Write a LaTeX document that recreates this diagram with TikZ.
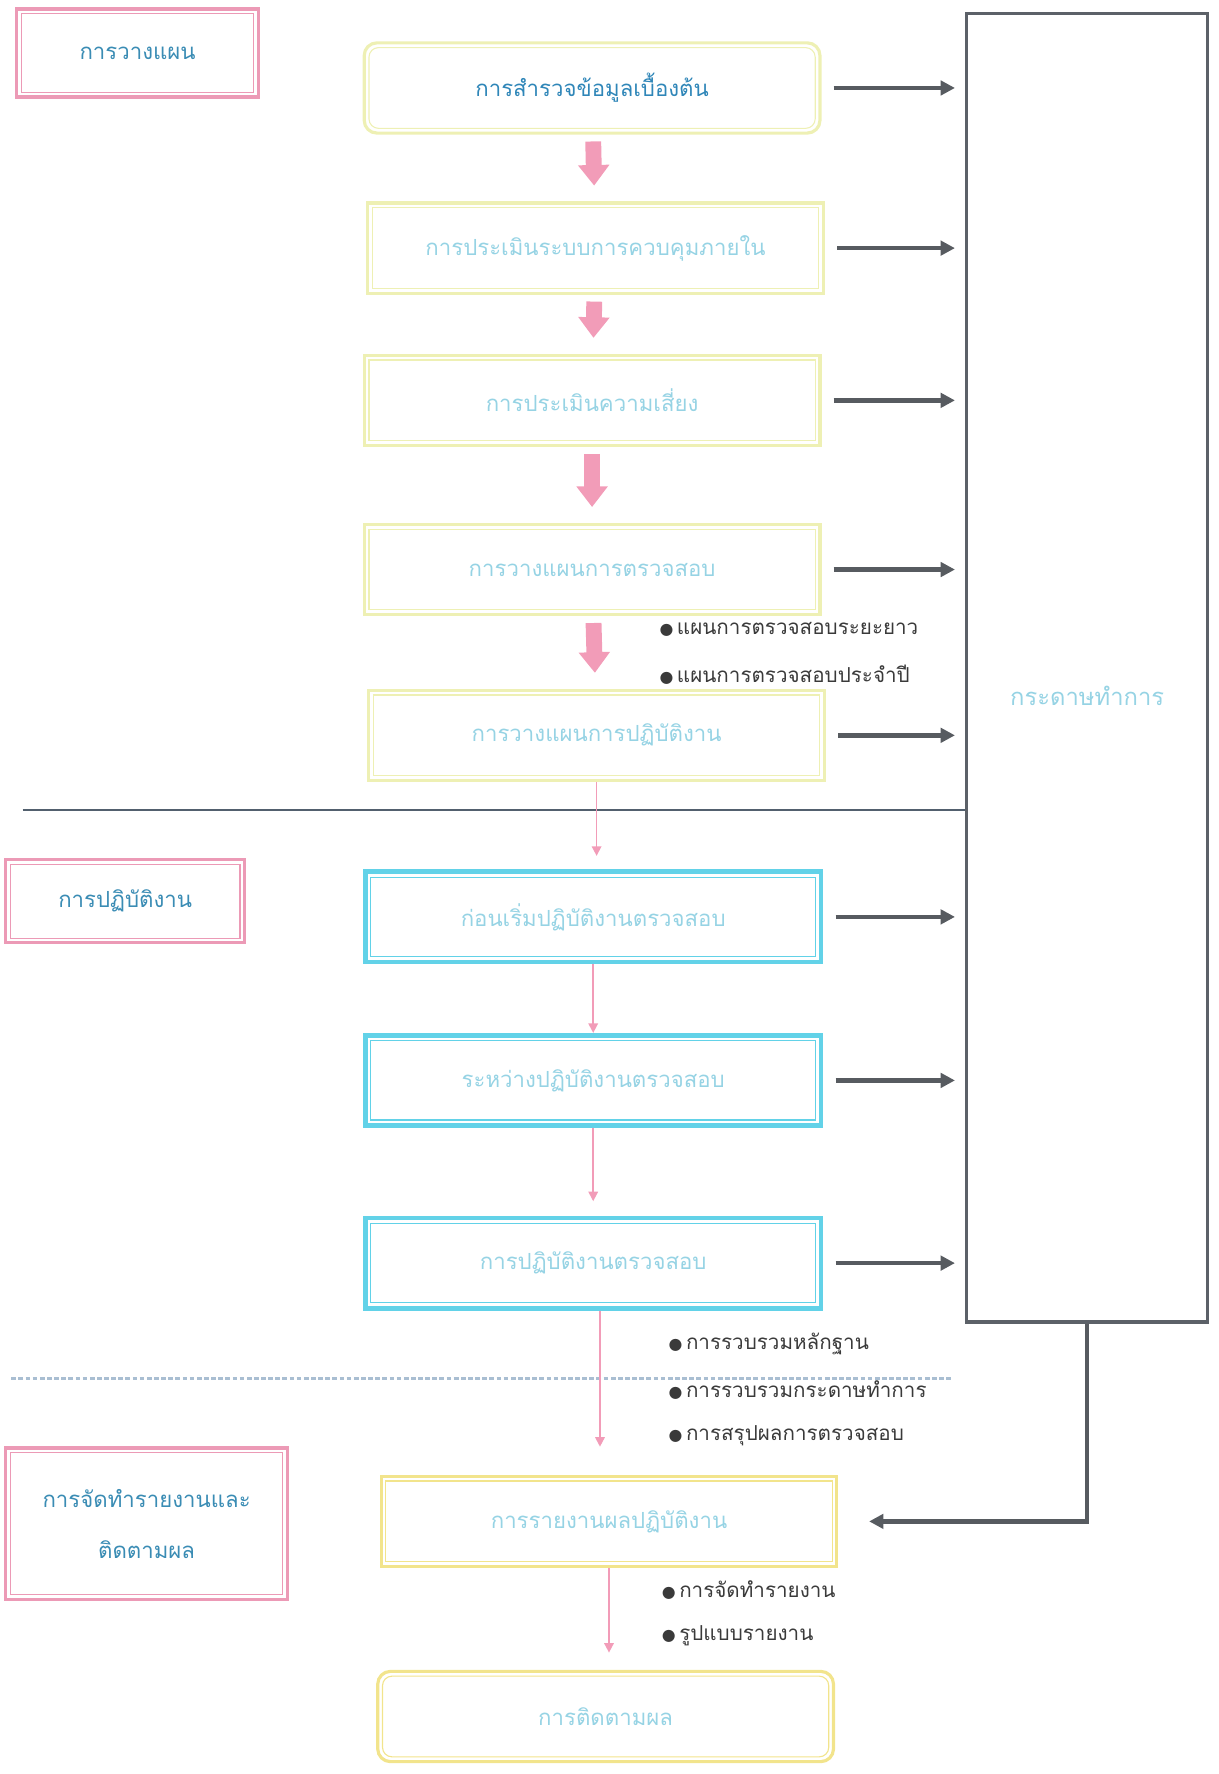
\documentclass[tikz,border=0pt]{standalone}
\usepackage{fontspec}
\usetikzlibrary{arrows.meta}
\newfontfamily\thaifont[Script=Thai]{Loma}
\newfontfamily\symfont{DejaVu Sans}

\definecolor{phasepink}{HTML}{EC9AB6}
\definecolor{phasetext}{HTML}{3A8CB4}
\definecolor{planyellow}{HTML}{EEF0B4}
\definecolor{reportyellow}{HTML}{F2E48C}
\definecolor{workcyan}{HTML}{62D2E8}
\definecolor{fadecyan}{HTML}{96D3E4}
\definecolor{firstblue}{HTML}{2F86B8}
\definecolor{arrowgray}{HTML}{575B60}
\definecolor{boxgray}{HTML}{5C6168}
\definecolor{flowpink}{HTML}{F29CB8}
\definecolor{bullettext}{HTML}{3A3A3A}
\definecolor{sepblue}{HTML}{52606E}
\definecolor{sepdots}{HTML}{A9BED2}

\newcommand{\dotitem}[1]{{\symfont\fontsize{10}{10}\selectfont ●}\,#1}

\begin{document}
\begin{tikzpicture}[x=0.025cm, y=-0.025cm,
  phasebox/.style={draw=phasepink, line width=2pt, text=phasetext, align=center,
    font=\thaifont\fontsize{14}{32}\selectfont},
  planbox/.style={draw=planyellow, line width=2pt, minimum width=10.1cm,
    minimum height=2cm, text=fadecyan, font=\thaifont\fontsize{14}{16}\selectfont},
  workbox/.style={planbox, draw=workcyan, line width=3pt},
  reportbox/.style={planbox, draw=reportyellow},
  paperbox/.style={draw=boxgray, line width=2pt, minimum width=5.35cm, minimum height=29cm},
  toright/.style={draw=arrowgray, line width=2.8pt, shorten <=0.27cm, shorten >=0.22cm,
    -{Triangle[length=9pt,width=9pt]}},
  fatarrow/.style={draw=flowpink, line width=10pt, shorten <=0.15cm, shorten >=0.35cm,
    -{Triangle[length=13pt,width=19pt]}},
  thinarrow/.style={draw=flowpink, line width=1pt, -{Triangle[length=6pt,width=6pt]}},
  bulletitem/.style={anchor=west, text=bullettext, font=\thaifont\fontsize{13}{15}\selectfont}]
\useasboundingbox (0,0) rectangle (1080,1573);

% phase labels
\node[phasebox, minimum width=5.35cm, minimum height=1.95cm] (plan) at (122,47) {การวางแผน};
\node[phasebox, minimum width=5.3cm, minimum height=1.85cm] (work) at (111,799) {การปฏิบัติงาน};
\node[phasebox, minimum width=6.25cm, minimum height=3.35cm] (report) at (130,1351) {การจัดทำรายงานและ\\ติดตามผล};

% planning steps
\node[planbox, rounded corners=8pt, text=firstblue] (survey) at (525,78) {การสำรวจข้อมูลเบื้องต้น};
\node[planbox] (control) at (528,220) {การประเมินระบบการควบคุมภายใน};
\node[planbox] (risk) at (525,355) {การประเมินความเสี่ยง};
\node[planbox] (auditplan) at (525,505) {การวางแผนการตรวจสอบ};
\node[planbox] (workplan) at (529,652) {การวางแผนการปฏิบัติงาน};

% working steps
\node[workbox] (before) at (526,813) {ก่อนเริ่มปฏิบัติงานตรวจสอบ};
\node[workbox] (during) at (526,958) {ระหว่างปฏิบัติงานตรวจสอบ};
\node[workbox] (finish) at (526,1120) {การปฏิบัติงานตรวจสอบ};

% reporting steps
\node[reportbox] (result) at (540,1349) {การรายงานผลปฏิบัติงาน};
\node[reportbox, rounded corners=8pt] (follow) at (537,1522) {การติดตามผล};

% working papers
\node[paperbox] (paper) at (964,592) {};
\node[text=fadecyan, font=\thaifont\fontsize{15}{17}\selectfont] (papertext) at (964,617) {กระดาษทำการ};

% inner lines of the double borders
\foreach \b in {plan,work,report}
  \draw[phasepink, line width=0.7pt]
    ([shift={(4pt,-4pt)}]\b.north west) rectangle ([shift={(-4pt,4pt)}]\b.south east);
\foreach \b in {control,risk,auditplan,workplan}
  \draw[planyellow, line width=0.7pt]
    ([shift={(4pt,-4pt)}]\b.north west) rectangle ([shift={(-4pt,4pt)}]\b.south east);
\foreach \b in {before,during,finish}
  \draw[workcyan, line width=0.7pt]
    ([shift={(5pt,-5pt)}]\b.north west) rectangle ([shift={(-5pt,5pt)}]\b.south east);
\draw[reportyellow, line width=0.7pt]
  ([shift={(4pt,-4pt)}]result.north west) rectangle ([shift={(-4pt,4pt)}]result.south east);
\draw[reportyellow, line width=0.7pt, rounded corners=6pt]
  ([shift={(4pt,-4pt)}]follow.north west) rectangle ([shift={(-4pt,4pt)}]follow.south east);
\draw[planyellow, line width=0.7pt, rounded corners=6pt]
  ([shift={(4pt,-4pt)}]survey.north west) rectangle ([shift={(-4pt,4pt)}]survey.south east);

% section lines
\coordinate (sepA) at (20,718);
\coordinate (sepB) at (10,1222);
\coordinate (sepC) at (845,1222);
\draw[sepblue, line width=1.2pt] (sepA) -- (sepA -| paper.west);
\draw[sepdots, line width=2pt, dash pattern=on 3pt off 1.5pt] (sepB) -- (sepC);

% flow inside planning
\draw[fatarrow] (survey) -- (control);
\draw[fatarrow] (control) -- (risk);
\draw[fatarrow] (risk) -- (auditplan);
\draw[fatarrow] (auditplan) -- (workplan);

% flow after planning
\draw[thinarrow, shorten >=0.3cm] (workplan.south) -- (workplan.south |- before.north);
\draw[thinarrow] (before) -- (during);
\draw[thinarrow, shorten >=0.32cm] (during) -- (finish);
\draw[thinarrow, shorten >=0.62cm] ([xshift=0.15cm]finish.south) -- ([xshift=0.15cm]finish.south |- result.north);
\draw[thinarrow, shorten >=0.38cm] (result) -- (result.south |- follow.north);

% into working papers
\foreach \b in {survey,control,risk,auditplan,workplan,before,during,finish}
  \draw[toright] (\b.east) -- (\b.east -| paper.west);
\draw[toright, shorten <=0pt, shorten >=0.68cm] (paper.south) |- (result.east);

% details
\node[bulletitem] (longplan) at (580,558) {\dotitem{แผนการตรวจสอบระยะยาว}};
\node[bulletitem] (yearplan) at (580,598) {\dotitem{แผนการตรวจสอบประจำปี}};
\node[bulletitem] (evidence) at (588,1192) {\dotitem{การรวบรวมหลักฐาน}};
\node[bulletitem] (papers) at (588,1233) {\dotitem{การรวบรวมกระดาษทำการ}};
\node[bulletitem] (conclude) at (588,1273) {\dotitem{การสรุปผลการตรวจสอบ}};
\node[bulletitem] (writing) at (582,1410) {\dotitem{การจัดทำรายงาน}};
\node[bulletitem] (format) at (582,1450) {\dotitem{รูปแบบรายงาน}};
\end{tikzpicture}
\end{document}
